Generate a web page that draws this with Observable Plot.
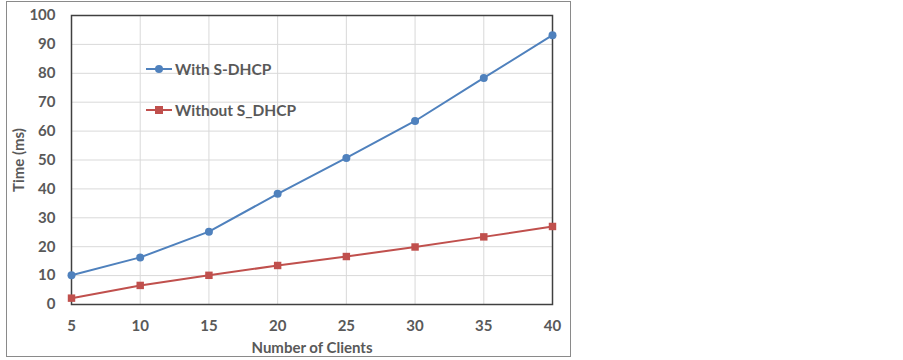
<!DOCTYPE html>
<html>
<head>
<meta charset="utf-8">
<script src="https://cdn.jsdelivr.net/npm/d3@7"></script>
<script src="https://cdn.jsdelivr.net/npm/@observablehq/plot@0.6"></script>
<style>
  html, body { margin: 0; padding: 0; background: #fff; }
  #wrap { position: relative; width: 903px; height: 360px; font-family: Lato, "Open Sans", sans-serif; }
  #border { position: absolute; left: 6px; top: 1px; width: 565px; height: 356px; border: 1px solid #8a8a8a; box-sizing: border-box; pointer-events: none; }
  .leg { position: absolute; display: flex; align-items: center; font-weight: 700; font-size: 15.5px; color: #595959; }
  .leg svg { margin-right: 3px; }
</style>
</head>
<body>
<div id="wrap"><div id="border"></div></div>
<script>
const clients = [5, 10, 15, 20, 25, 30, 35, 40];
const withSDHCP = [10.1, 16.3, 25.2, 38.3, 50.7, 63.5, 78.4, 93.2];
const withoutSDHCP = [2.2, 6.6, 10.1, 13.5, 16.6, 19.9, 23.4, 27.0];
const seriesNames = ["With S-DHCP", "Without S_DHCP"];
const seriesColors = ["#4f81bd", "#c0504d"];
const xTicks = [5, 10, 15, 20, 25, 30, 35, 40];
const yTicks = [0, 10, 20, 30, 40, 50, 60, 70, 80, 90, 100];

const dataA = clients.map((c, i) => ({x: c, y: withSDHCP[i]}));
const dataB = clients.map((c, i) => ({x: c, y: withoutSDHCP[i]}));

const chart = Plot.plot({
  width: 903,
  height: 360,
  marginLeft: 71,
  marginRight: 351,
  marginTop: 15,
  marginBottom: 56,
  style: {fontFamily: "Lato, 'Open Sans', sans-serif", fontSize: "15px", fontWeight: 700, color: "#595959", background: "transparent"},
  x: {domain: [5, 40]},
  y: {domain: [0, 100]},
  marks: [
    Plot.gridX(xTicks, {stroke: "#d9d9d9", strokeOpacity: 1, strokeWidth: 1}),
    Plot.gridY(yTicks, {stroke: "#d9d9d9", strokeOpacity: 1, strokeWidth: 1}),
    Plot.frame({stroke: "#404040", strokeWidth: 1.5}),
    Plot.axisX({ticks: xTicks, tickSize: 0, tickPadding: 16, label: "Number of Clients", labelAnchor: "center", labelArrow: "none", labelOffset: 48, fill: "#595959", fontSize: 15}),
    Plot.axisY({ticks: yTicks, tickSize: 0, tickPadding: 16, label: "Time (ms)", labelAnchor: "center", labelArrow: "none", labelOffset: 58, fill: "#595959", fontSize: 15}),
    Plot.line(dataA, {x: "x", y: "y", stroke: seriesColors[0], strokeWidth: 2}),
    Plot.dot(dataA, {x: "x", y: "y", fill: seriesColors[0], r: 4, symbol: "circle"}),
    Plot.line(dataB, {x: "x", y: "y", stroke: seriesColors[1], strokeWidth: 2}),
    Plot.dot(dataB, {x: "x", y: "y", fill: seriesColors[1], r: 4.2, symbol: "square"})
  ]
});
const wrap = document.getElementById("wrap");
chart.style.position = "absolute";
chart.style.left = "0";
chart.style.top = "0";
wrap.insertBefore(chart, wrap.firstChild);

// in-plot legend
const legTops = [59, 100];
seriesNames.forEach((name, i) => {
  const d = document.createElement("div");
  d.className = "leg";
  d.style.left = "146px";
  d.style.top = legTops[i] + "px";
  const sym = i === 0
    ? `<circle cx="13" cy="10" r="4" fill="${seriesColors[i]}"/>`
    : `<rect x="9" y="6" width="8" height="8" fill="${seriesColors[i]}"/>`;
  d.innerHTML = `<svg width="26" height="20"><line x1="0" x2="26" y1="10" y2="10" stroke="${seriesColors[i]}" stroke-width="2"/>${sym}</svg><span>${name}</span>`;
  wrap.appendChild(d);
});
</script>
</body>
</html>
